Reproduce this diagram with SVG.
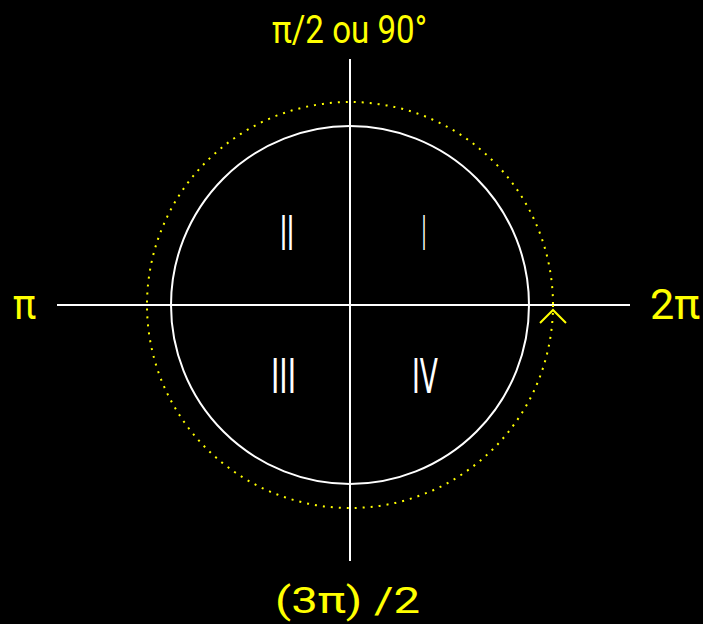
<svg xmlns="http://www.w3.org/2000/svg" width="703" height="624" viewBox="0 0 703 624">
<style>
.w{stroke:#fff;stroke-width:2;fill:none}
.y{fill:#ffff00;font-family:Roboto,"Liberation Sans",sans-serif}
.r{fill:#fff;font-family:"DejaVu Sans","Liberation Sans",sans-serif;font-size:48px}
</style>
<rect width="703" height="624" fill="#000"/>
<g id="connectors">
<line class="w" x1="57" y1="305" x2="630" y2="305"/>
<line class="w" x1="350" y1="59" x2="350" y2="561"/>
</g>
<g id="unit-circle"><circle class="w" cx="350" cy="305" r="179"/></g>
<g id="rotation-circle">
<circle cx="350" cy="305" r="203" fill="none" stroke="#ffff00" stroke-width="2" stroke-dasharray="2 6"/>
<polyline points="540,323 553,310 566,323" fill="none" stroke="#ffff00" stroke-width="2"/>
</g>
<g id="label-top"><text class="y" x="272" y="43" font-size="38" textLength="155" lengthAdjust="spacingAndGlyphs">π/2 ou 90°</text></g>
<g id="label-right"><text class="y" x="650" y="319" font-size="42" textLength="50" lengthAdjust="spacingAndGlyphs">2π</text></g>
<g id="label-left"><text class="y" x="13" y="319" font-size="42" textLength="23" lengthAdjust="spacingAndGlyphs">π</text></g>
<g id="label-bottom"><text class="y" x="275" y="613" font-size="37" textLength="145" lengthAdjust="spacingAndGlyphs">(3π) /2</text></g>
<g id="q1"><text class="r" x="422" y="250" textLength="4" lengthAdjust="spacingAndGlyphs">I</text></g>
<g id="q2"><text class="r" x="280" y="250" textLength="14" lengthAdjust="spacingAndGlyphs">II</text></g>
<g id="q3"><text class="r" x="271" y="393" textLength="25" lengthAdjust="spacingAndGlyphs">III</text></g>
<g id="q4"><text class="r" x="412" y="393" textLength="26" lengthAdjust="spacingAndGlyphs">IV</text></g>
</svg>
